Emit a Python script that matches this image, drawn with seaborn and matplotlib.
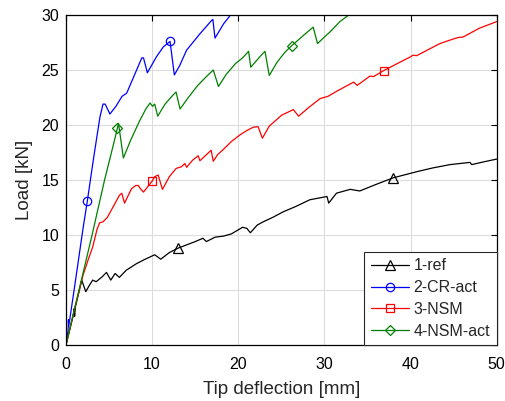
import numpy as np
import pandas as pd
import matplotlib
matplotlib.use("Agg")
import matplotlib.pyplot as plt
import seaborn as sns

# Load-deflection curves (tip deflection in mm, load in kN)
ref_x = [0, 0.5, 0.85, 0.95, 1.0, 1.1, 1.5, 1.82, 2.3, 2.7, 3.1, 3.5, 4.2, 4.7, 5.2, 5.7,
         6.2, 7.0, 8.2, 9.2, 10.3, 11.0, 12.0, 13.0, 14.0, 15.0, 15.9, 16.3, 17.3, 18.3,
         19.2, 20.5, 21.0, 21.4, 22.2, 22.9, 24.0, 25.2, 26.7, 28.3, 30.3, 30.5, 31.4,
         33.0, 34.1, 36.0, 38.0, 40.7, 42.6, 44.6, 46.9, 47.1, 48.5, 50.0]
ref_y = [0, 1.6, 2.7, 3.3, 2.6, 3.5, 4.8, 5.9, 4.85, 5.4, 5.9, 5.75, 6.2, 6.6, 5.9, 6.5,
         6.15, 6.8, 7.4, 7.8, 8.2, 7.8, 8.4, 8.8, 9.1, 9.4, 9.7, 9.4, 9.8, 9.9,
         10.1, 10.7, 10.6, 10.2, 10.9, 11.2, 11.6, 12.1, 12.6, 13.2, 13.5, 12.9, 13.8,
         14.15, 14.0, 14.6, 15.2, 15.75, 16.1, 16.4, 16.6, 16.4, 16.65, 16.9]

cr_x = [0, 0.25, 0.28, 0.32, 1.0, 2.0, 2.48, 3.17, 3.6, 3.95, 4.3, 4.55, 5.1, 5.8, 6.5,
        7.05, 8.2, 8.8, 9.0, 9.45, 10.5, 11.3, 12.08, 12.58, 13.2, 14.0, 15.56, 16.9,
        17.05, 17.3, 18.3, 19.4]
cr_y = [0, 1.35, 2.3, 1.7, 5.3, 10.7, 13.1, 16.8, 19.0, 20.75, 21.9, 21.9, 21.0, 21.7, 22.6,
        22.9, 25.0, 26.1, 26.1, 24.75, 26.2, 27.1, 27.6, 24.55, 25.4, 26.8, 28.3, 29.5,
        29.6, 27.9, 29.2, 30.3]

nsm_x = [0, 1, 2, 2.6, 3.1, 3.6, 3.9, 4.3, 4.8, 5.5, 6.2, 6.47, 6.8, 7.6, 8.1, 8.4, 8.6,
         9.0, 9.4, 10.0, 10.3, 10.7, 11.2, 12.0, 12.8, 13.4, 13.8, 14.0, 14.7, 15.35, 15.55,
         16.3, 16.85, 17.1, 17.6, 18.3, 19.2, 20.2, 21.0, 21.75, 22.3, 22.8, 23.6, 25.05,
         26.4, 27.0, 28.2, 29.5, 30.4, 31.5, 33.4, 33.8, 35.3, 35.7, 36.9, 38.5, 40.0,
         40.3, 40.7, 43.4, 44.5, 45.5, 46.1, 48.0, 50.0]
nsm_y = [0, 3.3, 6.4, 7.8, 8.9, 10.5, 11.1, 11.2, 11.6, 12.6, 13.6, 13.8, 12.9, 14.2, 14.5,
         14.5, 14.25, 13.9, 14.3, 14.9, 15.3, 15.45, 14.15, 15.3, 16.06, 16.2, 16.5, 16.15,
         16.8, 17.2, 16.75, 17.3, 17.7, 16.7, 17.3, 17.8, 18.5, 19.1, 19.5, 19.8, 19.85,
         18.8, 19.9, 20.9, 21.4, 20.8, 21.6, 22.4, 22.6, 23.1, 23.9, 23.6, 24.45, 24.4,
         24.95, 25.6, 26.2, 26.35, 26.3, 27.4, 27.7, 27.95, 28.0, 28.8, 29.4]

nsmact_x = [0, 1, 2, 3, 4.48, 5.5, 5.98, 6.1, 6.66, 7.5, 8.5, 9.3, 9.76, 10.05, 10.3, 10.65,
            11.5, 12.4, 12.78, 13.24, 14.2, 15.3, 16.3, 17.1, 17.7, 18.6, 19.7, 20.5, 21.2,
            21.45, 22.5, 23.1, 23.6, 24.5, 25.4, 26.2, 27.5, 28.7, 29.2, 30.0, 30.7, 31.8,
            33.0, 33.3]
nsmact_y = [0, 3.3, 6.6, 9.9, 15.0, 18.2, 19.75, 20.15, 17.0, 18.6, 20.3, 21.5, 22.0, 21.7,
            21.9, 20.8, 21.9, 22.7, 23.0, 21.45, 22.5, 23.6, 24.4, 25.0, 23.5, 24.6, 25.6,
            26.1, 26.7, 25.25, 26.2, 26.7, 24.5, 25.7, 26.6, 27.2, 28.1, 28.9, 27.4, 28.0,
            28.5, 29.4, 30.1, 30.3]

labels = ["1-ref", "2-CR-act", "3-NSM", "4-NSM-act"]
colors = ["black", "#0000ff", "#ff0000", "#008000"]
markers = ["^", "o", "s", "D"]
marker_pts = [(13.0, 38.0), (2.48, 12.08), (10.0, 36.9), (5.98, 26.2)]
series = [(ref_x, ref_y), (cr_x, cr_y), (nsm_x, nsm_y), (nsmact_x, nsmact_y)]

sns.set_style("white")
plt.rcParams["font.family"] = ["Liberation Sans", "DejaVu Sans"]

fig = plt.figure(figsize=(5.06, 4.01), dpi=100)
ax = fig.add_axes([0.1304, 0.1397, 0.8512, 0.8229])

for (xs, ys), lab, col, mk, mpts in zip(series, labels, colors, markers, marker_pts):
    df = pd.DataFrame({"x": xs, "y": ys})
    idx = [xs.index(p) for p in mpts]
    ms = 5.5 if mk == "D" else (6.5 if mk == "^" else 6)
    sns.lineplot(data=df, x="x", y="y", sort=False, estimator=None, ax=ax,
                 color=col, lw=0.9, label=lab, marker=mk, markevery=idx,
                 markersize=ms, markerfacecolor="none", markeredgecolor=col,
                 markeredgewidth=0.9)

ax.set_xlim(0, 50)
ax.set_ylim(0, 30)
ax.set_xticks(np.arange(0, 51, 10))
ax.set_yticks(np.arange(0, 31, 5))
ax.grid(True, color="#dcdcdc", lw=0.8)
ax.set_axisbelow(True)
for s in ax.spines.values():
    s.set_color("black")
    s.set_linewidth(0.9)
ax.tick_params(direction="in", length=4.5, width=0.8, top=True, right=True,
               labelsize=11.5, colors="black", pad=5)
ax.tick_params(axis="x", pad=9)
ax.set_xlabel("Tip deflection [mm]", fontsize=13.5, labelpad=6)
ax.set_ylabel("Load [kN]", fontsize=13.5, labelpad=6)

leg = ax.legend(loc="lower right", borderaxespad=0, fontsize=11.5, fancybox=False,
                edgecolor="#262626", framealpha=1, handlelength=2.4,
                labelspacing=0.42, handletextpad=0.3, borderpad=0.4)
leg.get_frame().set_linewidth(0.8)

fig.savefig("out.png", dpi=100)
